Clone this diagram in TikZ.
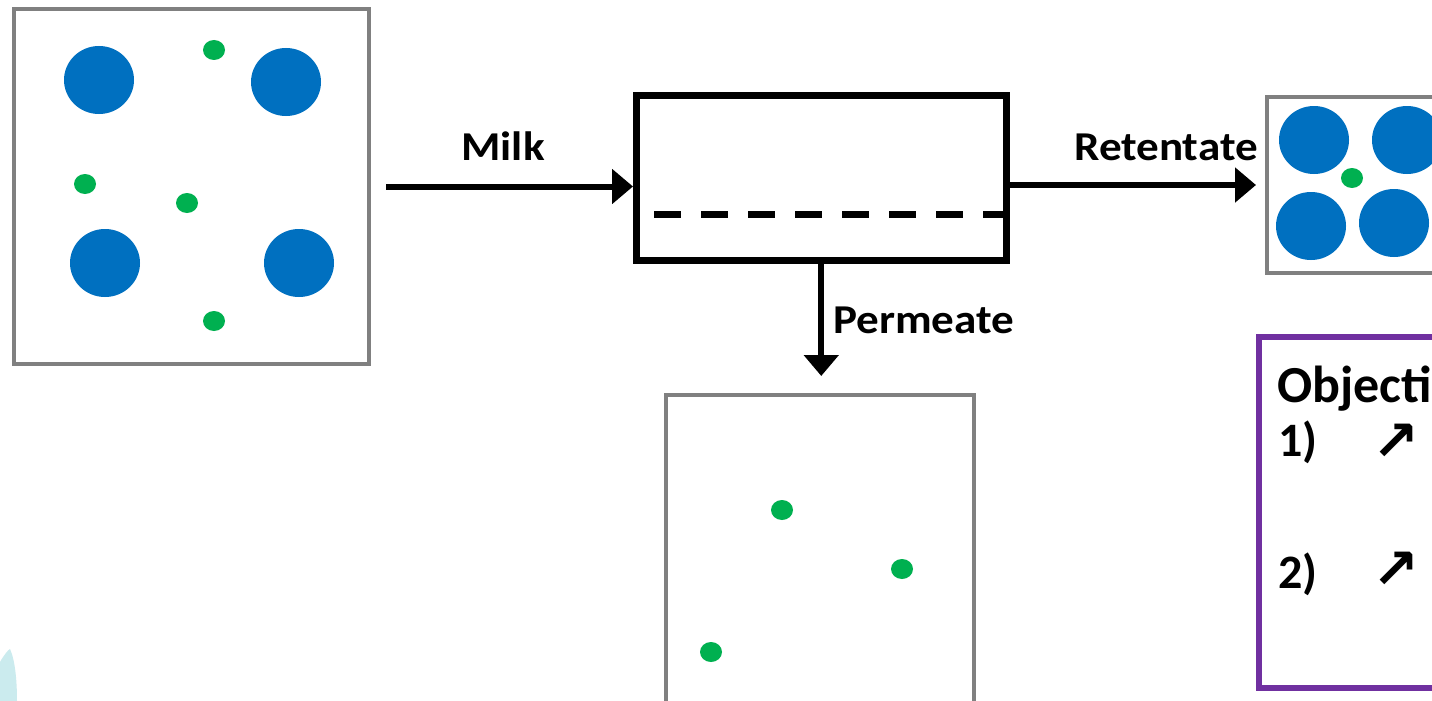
\documentclass[tikz,border=0pt]{standalone}
\usepackage{fontspec}
\setmainfont{Carlito}
\newfontfamily\symfont{DejaVu Sans}
\usetikzlibrary{arrows.meta}
\definecolor{casein}{HTML}{0070C0}
\definecolor{whey}{HTML}{00B050}
\definecolor{frame}{HTML}{808080}
\definecolor{goal}{HTML}{7030A0}
\definecolor{drop}{HTML}{CBEBEE}
\tikzset{
  sample/.style={draw=frame, line width=4pt, fill=white, inner sep=0pt, minimum width=#1, minimum height=#1},
  unit/.style={draw=black, line width=7pt, inner sep=0pt, minimum width=369.5pt, minimum height=164.5pt},
  flow/.style={line width=6pt, -{Triangle[length=21pt,width=34pt]}},
  label/.style={font=\bfseries\fontsize{41}{48}\selectfont, inner sep=0pt, xscale=1.1},
  item/.style={font=\bfseries\fontsize{48}{56}\selectfont, inner sep=0pt, anchor=base west},
  rise/.style={font=\symfont\bfseries\fontsize{56}{64}\selectfont, inner sep=0pt},
  protein/.style={fill=casein},
  serum/.style={fill=whey},
}
\begin{document}
\begin{tikzpicture}[x=1pt, y=-1pt]
  \clip (0,0) rectangle (1432,701);
  \fill[white] (0,0) rectangle (1432,701);

  % droplet at the lower left corner
  \fill[drop] (0,662) .. controls (4,655) and (8,650) .. (10,649)
              .. controls (15,660) and (17,680) .. (17,701) -- (0,701) -- cycle;

  % sample boxes
  \node[sample=355.5pt] (feed) at (191.5,186.5) {};
  \node[sample=176pt]   (ret)  at (1355,185) {};
  \node[sample=308pt]   (perm) at (820,549) {};

  % membrane unit
  \node[unit] (mem) at (821.25,177.75) {};
  \draw[line width=7pt, dash pattern=on 27pt off 20pt] (654,214) -- (1003,214);

  % feed milk
  \fill[protein] (99,80) ellipse [x radius=35, y radius=34];
  \fill[protein] (286,82) ellipse [x radius=35, y radius=34];
  \fill[protein] (105,263) ellipse [x radius=35, y radius=34];
  \fill[protein] (299,263) ellipse [x radius=35, y radius=34];
  \fill[serum] (214,50) ellipse [x radius=11, y radius=10];
  \fill[serum] (85,184) ellipse [x radius=11, y radius=10];
  \fill[serum] (187,203) ellipse [x radius=11, y radius=10];
  \fill[serum] (214,321) ellipse [x radius=11, y radius=10];

  % retentate
  \fill[protein] (1314,140) ellipse [x radius=35, y radius=34];
  \fill[protein] (1407,140) ellipse [x radius=35, y radius=34];
  \fill[protein] (1311,226) ellipse [x radius=35, y radius=34];
  \fill[protein] (1394,223) ellipse [x radius=35, y radius=34];
  \fill[serum] (1352,178) ellipse [x radius=11, y radius=10];

  % permeate
  \fill[serum] (782,510) ellipse [x radius=11, y radius=10];
  \fill[serum] (902,569) ellipse [x radius=11, y radius=10];
  \fill[serum] (711,652) ellipse [x radius=11, y radius=10];

  % streams
  \draw[flow] ([xshift=15pt]feed.east) -- (mem.west |- feed.east);
  \draw[flow] (mem.east |- ret.west) -- ([xshift=-9pt]ret.west);
  \draw[flow] (mem.south) -- ([yshift=17pt]perm.north -| mem.south);

  \node[label, anchor=base] (milk) at (503,160) {Milk};
  \node[label, anchor=base] (retl) at (1166,160) {Retentate};
  \node[label, anchor=base west] (perml) at (833,333) {Permeate};

  % objectives panel
  \node[draw=goal, line width=6pt, inner sep=0pt, minimum width=400pt, minimum height=351pt] (obj) at (1458.5,512) {};
  \node[font=\bfseries\fontsize{52}{60}\selectfont, inner sep=0pt, anchor=base west] (objt) at (1277,402) {Objecti};
  \node[item] (o1) at (1278,456) {1)};
  \node[rise] (a1) at (1396,442) {↗};
  \node[item] (o2) at (1278,588) {2)};
  \node[rise] (a2) at (1396,570) {↗};
\end{tikzpicture}
\end{document}
